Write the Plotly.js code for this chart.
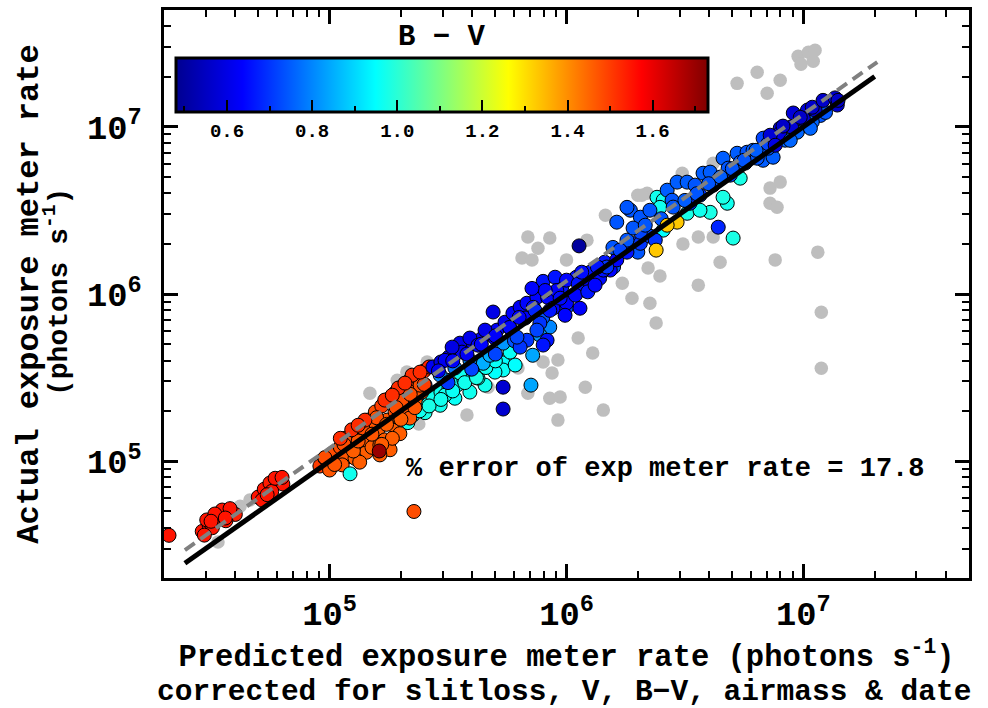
<!DOCTYPE html>
<html>
<head>
<meta charset="utf-8">
<script src="https://cdn.plot.ly/plotly-3.0.1.min.js"></script>
<style>html,body{margin:0;padding:0;background:#fff;}#chart{width:988px;height:708px;}</style>
</head>
<body>
<div id="chart"></div>
<script>
// Background (grey) points: predicted vs actual exposure meter rate (photons/s)
const greyPred = [3.38e4,4.19e4,4.61e4,1.48e5,1.93e5,2.12e5,2.58e5,2.38e5,3.8e5,3.91e5,4.67e5,
  6.87e5,8.5e5,7.58e5,6.49e5,7.15e5,1.0e6,1.22e6,1.46e6,2.0e6,2.19e6,3.08e6,4.16e6,3.1e6,3.6e6,4.16e6,
  4.45e6,7.6e6,1.15e7,2.21e6,2.48e6,1.72e6,1.89e6,2.25e6,3.6e6,1.19e7,2.39e6,1.19e7,1.12e6,1.29e6,
  7.23e6,7.98e6,7.23e6,7.74e6,8.69e5,7.97e5,9.2e5,6.87e5,8.5e5,9.4e5,1.2e6,1.43e6,9.2e5,6.24e5,
  5.25e6,6.38e6,7.03e6,7.98e6,9.5e6,1.05e7,1.1e7,9.77e6,1.12e7,2.08e6,7.03e6];
const greyAct = [3.28e4,5.38e4,5.85e4,2.55e5,3.05e5,3.41e5,3.92e5,1.67e5,1.89e5,3.05e5,2.77e5,
  2.19e6,2.16e6,1.88e6,1.64e6,1.6e6,1.6e6,2.1e6,2.96e6,3.9e6,4.01e6,5.28e6,6.05e6,1.99e6,2.19e6,2.19e6,
  1.55e6,1.6e6,1.78e6,1.43e6,1.28e6,1.16e6,9.44e5,8.81e5,1.13e6,7.78e5,6.7e5,3.6e5,5.45e5,4.44e5,
  4.3e6,4.67e6,3.49e6,3.3e6,3.37e5,3.92e5,4.03e5,2.55e5,2.38e5,2.42e5,2.77e5,2.02e5,1.76e5,3.61e5,
  1.82e7,2.12e7,1.59e7,1.9e7,2.64e7,2.79e7,2.47e7,2.37e7,2.87e7,3.9e6,8.79e6];

// Coloured points: predicted rate, actual rate, B-V colour
const colPred = [
  // cyan / light blue (below the line)
  2.04e5,2.18e5,2.36e5,2.53e5,2.73e5,2.95e5,3.19e5,3.45e5,3.69e5,3.99e5,4.31e5,4.67e5,5.04e5,3.55e5,5.4e5,5.4e5,2.25e5,
  2.14e5,2.53e5,2.93e5,3.38e5,3.91e5,4.53e5,4.99e5,4.23e5,3.07e5,6.07e5,5.78e5,
  2.14e5,2.4e5,2.63e5,2.95e5,3.31e5,3.72e5,4.17e5,4.57e5,5.01e5,
  4.45e5,3.13e5,4.75e5,7.2e5,7.08e5,4.9e5,5.4e5,2.36e5,8.5e5,3.91e5,3.38e5,2.93e5,2.53e5,7.72e5,
  // red, lower-left
  2.1e4,2.9e4,3.1e4,3.3e4,3.55e4,3.8e4,4.0e4,3.2e4,3.65e4,3.03e4,3.52e4,3.8e4,3.28e4,2.96e4,3.16e4,3.63e4,
  5.0e4,5.3e4,5.6e4,6.05e4,6.35e4,5.7e4,5.19e4,5.89e4,5.45e4,6.3e4,
  // orange cluster
  9.1e4,9.55e4,1.03e5,1.11e5,1.06e5,1.16e5,1.22e5,1.31e5,1.37e5,1.45e5,1.56e5,1.66e5,1.77e5,1.89e5,2.02e5,2.16e5,2.32e5,2.5e5,2.63e5,
  1.34e5,1.48e5,1.6e5,1.71e5,1.84e5,1.95e5,2.08e5,1.8e5,1.63e5,1.43e5,2.3e5,2.45e5,1.98e5,
  1.0e5,1.13e5,1.28e5,1.16e5,1.37e5,1.51e5,1.75e5,1.51e5,1.89e5,2.02e5,2.18e5,2.41e5,2.18e5,1.84e5,1.63e5,1.34e5,
  9.55e4,1.05e5,1.15e5,1.26e5,1.38e5,1.51e5,1.58e5,1.74e5,1.91e5,2.0e5,2.19e5,2.29e5,2.51e5,1.32e5,1.66e5,
  1.24e5,1.41e5,1.71e5,1.95e5,2.23e5,1.11e5,1.32e5,1.84e5,2.08e5,2.41e5,
  1.62e5,2.27e5,1.22e5,
  // blue band along the line
  2.73e5,2.95e5,3.19e5,3.45e5,3.73e5,4.03e5,4.36e5,4.71e5,5.09e5,3.55e5,3.91e5,4.9e5,5.5e5,5.94e5,6.37e5,6.81e5,7.5e5,
  3.07e5,3.62e5,4.23e5,4.99e5,5.78e5,6.69e5,3.29e5,4.53e5,
  2.88e5,3.31e5,3.8e5,4.37e5,5.01e5,5.75e5,6.31e5,7.24e5,8.32e5,9.55e5,1.1e6,1.26e6,1.45e6,1.66e6,1.91e6,2.14e6,
  3.16e5,3.98e5,5.01e5,6.03e5,7.94e5,1.0e6,1.2e6,1.58e6,2.0e6,
  7.97e5,8.95e5,1.0e6,1.12e6,1.26e6,1.38e6,1.53e6,1.63e6,1.8e6,2.05e6,2.25e6,9.1e5,1.0e6,1.14e6,8.77e5,7.72e5,8.28e5,
  6.81e5,6.37e5,7.97e5,6.18e5,7.5e5,
  8.13e5,9.4e5,1.09e6,1.23e6,1.32e6,8.5e5,9.86e5,7.36e5,7.15e5,1.43e6,1.16e6,
  1.13e6,5.4e5,5.4e5,
  // upper part
  2.41e6,2.56e6,3.23e6,4.04e6,4.77e6,5.41e6,4.58e6,5.05e6,2.56e6,3.66e6,2.48e6,
  1.48e6,1.35e6,1.57e6,1.63e6,1.86e6,2.05e6,1.8e6,2.05e6,1.8e6,2.25e6,2.66e6,2.93e6,3.23e6,3.77e6,4.04e6,4.58e6,5.25e6,
  5.78e6,6.13e6,6.76e6,7.45e6,6.76e6,7.98e6,9.06e6,9.7e6,1.04e7,1.18e7,3.32e6,3.66e6,4.16e6,4.91e6,5.68e6,
  1.68e6,1.91e6,2.15e6,2.37e6,2.79e6,3.49e6,4.37e6,4.81e6,5.41e6,6.38e6,7.1e6,8.37e6,9.42e6,1.09e7,1.24e7,
  2.51e6,2.82e6,3.16e6,3.55e6,3.98e6,4.47e6,5.01e6,5.62e6,6.31e6,7.08e6,7.94e6,8.91e6,1.0e7,1.12e7,
  1.07e7,8.8e6,
  2.39e6,2.93e6,2.66e6,4.37e6,
  8.2e6,9.7e6,1.09e7,1.21e7,1.36e7,1.39e7,7.24e6,1.4e7,7.6e6];
const colAct = [
  1.84e5,2.02e5,2.16e5,2.29e5,2.42e5,2.59e5,2.73e5,2.85e5,3.05e5,3.32e5,3.61e5,3.92e5,4.2e5,3.37e5,3.87e5,3.51e5,1.89e5,
  1.76e5,1.95e5,2.16e5,2.38e5,2.59e5,2.85e5,3.41e5,3.14e5,2.48e5,3.76e5,4.49e5,
  1.7e5,2.0e5,2.14e5,2.34e5,2.63e5,2.95e5,3.16e5,3.63e5,3.98e5,
  3.85e5,3.05e5,4.3e5,4.3e5,2.85e5,5.83e5,5.08e5,2.48e5,6.34e5,4.01e5,3.61e5,3.27e5,2.85e5,5.68e5,
  3.6e4,3.8e4,4.15e4,4.45e4,4.75e4,4.9e4,4.8e4,4.0e4,4.4e4,4.45e4,5.1e4,5.2e4,4.83e4,3.61e4,4.37e4,4.57e4,
  6.1e4,6.8e4,7.4e4,7.8e4,7.3e4,6.6e4,5.85e4,7.9e4,6.3e4,8.0e4,
  9.35e4,1.04e5,1.12e5,1.21e5,9.6e4,1.04e5,1.3e5,1.43e5,1.58e5,1.76e5,1.97e5,2.14e5,2.35e5,2.56e5,2.78e5,3.01e5,3.23e5,3.46e5,3.66e5,
  1.25e5,1.4e5,1.54e5,1.34e5,1.65e5,1.82e5,2.03e5,1.17e5,1.09e5,1.13e5,2.32e5,2.59e5,1.46e5,
  8.85e4,9.5e4,1.04e5,1.37e5,1.34e5,1.21e5,1.76e5,1.64e5,1.97e5,2.32e5,2.59e5,2.85e5,1.81e5,1.37e5,1.25e5,9.86e4,
  1.05e5,9.55e4,1.26e5,1.15e5,1.58e5,1.45e5,1.82e5,1.66e5,2.09e5,1.78e5,2.51e5,2.09e5,2.88e5,1.32e5,1.26e5,
  1.54e5,1.76e5,2.32e5,2.74e5,3.27e5,1.37e5,1.64e5,2.48e5,2.93e5,3.41e5,
  1.15e5,5.0e4,8.4e4,
  3.66e5,3.92e5,4.2e5,4.5e5,4.82e5,5.08e5,5.37e5,5.75e5,6.08e5,5.08e5,5.45e5,7.8e5,6.78e5,7.67e5,8.34e5,8.81e5,9.57e5,
  4.01e5,4.49e5,4.94e5,5.45e5,6.25e5,7.18e5,4.81e5,6.08e5,
  3.47e5,3.98e5,4.37e5,5.01e5,5.62e5,6.31e5,7.24e5,8.32e5,9.55e5,1.1e6,1.26e6,1.35e6,1.55e6,1.74e6,2.0e6,2.24e6,
  2.95e5,3.55e5,4.37e5,5.25e5,7.24e5,8.32e5,1.05e6,1.45e6,1.78e6,
  1.19e6,1.26e6,1.21e6,1.15e6,1.16e6,1.24e6,1.39e6,1.6e6,1.78e6,2.01e6,2.22e6,1.05e6,8.81e5,8.22e5,8.22e5,6.7e5,5.29e5,
  5.29e5,4.81e5,4.95e5,5.52e5,6.08e5,
  1.05e6,9.44e5,9.84e5,1.03e6,1.13e6,7.98e5,7.46e5,7.98e5,1.08e6,1.39e6,1.35e6,
  1.94e6,2.77e5,2.05e5,
  3.79e6,3.64e6,3.04e6,3.08e6,3.49e6,4.93e6,3.79e6,2.16e6,2.41e6,3.17e6,3.3e6,
  1.45e6,1.45e6,1.9e6,2.69e6,3.17e6,2.88e6,2.1e6,2.34e6,3.3e6,3.17e6,4.18e6,4.67e6,4.67e6,5.28e6,5.36e6,6.49e6,6.95e6,
  7.05e6,7.24e6,6.31e6,6.58e6,8.55e6,9.82e6,1.21e7,9.95e6,1.26e7,1.17e7,3.49e6,3.9e6,4.48e6,5.14e6,6.07e6,
  1.83e6,2.48e6,2.58e6,2.1e6,3.64e6,4.48e6,4.8e6,5.66e6,6.14e6,6.49e6,7.45e6,8.32e6,9.29e6,1.07e7,1.22e7,
  2.82e6,3.31e6,3.63e6,3.98e6,4.57e6,5.01e6,5.62e6,6.31e6,7.24e6,7.94e6,9.12e6,1.0e7,1.12e7,1.26e7,
  9.8e6,8.3e6,
  1.83e6,2.69e6,2.58e6,2.51e6,
  1.01e7,1.14e7,1.31e7,1.44e7,1.49e7,1.35e7,8.91e6,1.44e7,7.76e6];
const colBV = [
  0.96,0.97,0.97,0.98,0.97,0.97,0.98,0.97,0.97,0.98,0.96,0.97,0.96,0.97,0.95,0.96,0.97,
  0.97,0.98,0.97,0.96,0.97,0.97,0.95,0.98,0.97,0.95,0.96,
  0.97,0.97,0.98,0.97,0.96,0.97,0.98,0.97,0.96,
  0.85,0.84,0.85,0.84,0.84,0.80,0.82,0.72,0.80,0.80,0.78,0.80,0.72,0.82,
  1.55,1.55,1.55,1.54,1.55,1.55,1.54,1.55,1.55,1.55,1.55,1.55,1.55,1.55,1.55,1.55,
  1.55,1.55,1.54,1.55,1.55,1.55,1.55,1.55,1.55,1.55,
  1.50,1.50,1.48,1.48,1.47,1.47,1.48,1.48,1.50,1.50,1.48,1.50,1.48,1.48,1.50,1.50,1.52,1.52,1.53,
  1.46,1.46,1.46,1.46,1.46,1.46,1.47,1.46,1.46,1.46,1.47,1.47,1.46,
  1.47,1.47,1.46,1.48,1.47,1.46,1.47,1.47,1.48,1.48,1.48,1.48,1.47,1.46,1.46,1.46,
  1.48,1.47,1.48,1.46,1.48,1.47,1.48,1.46,1.48,1.46,1.48,1.47,1.50,1.47,1.46,
  1.52,1.52,1.52,1.52,1.52,1.52,1.52,1.52,1.52,1.52,
  1.70,1.48,0.97,
  0.62,0.60,0.62,0.60,0.62,0.63,0.62,0.60,0.62,0.60,0.61,0.60,0.62,0.63,0.62,0.64,0.64,
  0.62,0.62,0.63,0.62,0.64,0.64,0.60,0.61,
  0.62,0.63,0.62,0.64,0.63,0.64,0.63,0.65,0.64,0.66,0.65,0.66,0.66,0.68,0.70,0.70,
  0.70,0.72,0.72,0.74,0.74,0.72,0.74,0.74,0.74,
  0.66,0.66,0.64,0.66,0.64,0.65,0.64,0.64,0.66,0.70,0.72,0.63,0.64,0.63,0.64,0.70,0.66,
  0.70,0.70,0.66,0.72,0.72,
  0.64,0.65,0.64,0.66,0.64,0.66,0.64,0.68,0.64,0.66,0.65,
  0.50,0.57,0.57,
  0.97,0.97,0.98,0.98,0.97,0.98,0.98,0.98,0.95,0.97,0.97,
  0.70,0.66,0.74,0.74,0.74,0.74,0.74,0.72,0.74,0.74,0.75,0.75,0.75,0.75,0.75,0.75,0.75,
  0.74,0.75,0.75,0.75,0.72,0.60,0.58,0.74,0.58,0.74,0.70,0.70,0.70,0.72,0.72,
  0.72,0.74,0.74,0.70,0.74,0.74,0.74,0.74,0.74,0.74,0.74,0.76,0.76,0.76,0.74,
  0.74,0.74,0.75,0.74,0.74,0.75,0.74,0.74,0.75,0.72,0.60,0.58,0.58,0.56,
  0.76,0.76,
  1.33,1.33,1.33,0.68,
  0.56,0.56,0.56,0.56,0.56,0.56,0.58,0.56,0.60];

// One-to-one line and fitted (dashed) line
const oneToOneX = [2.45e4, 2.0e7];
const oneToOneY = [2.45e4, 2.0e7];
const fitX = [2.45e4, 2.05e7];
const fitY = [2.94e4, 2.44e7];

const colorTicks = [0.6, 0.8, 1.0, 1.2, 1.4, 1.6];
const colorTickText = ['0.6', '0.8', '1.0', '1.2', '1.4', '1.6'];
const colorMinorTicks = [0.5, 0.7, 0.9, 1.1, 1.3, 1.5, 1.7];
const bvRange = [0.48, 1.73];

const FONT = 'Liberation Mono, Courier New, monospace';
const jet = [[0,'#000090'],[0.125,'#0000ff'],[0.375,'#00ffff'],[0.625,'#ffff00'],[0.875,'#ff0000'],[1,'#800000']];
const clear = [[0,'rgba(0,0,0,0)'],[1,'rgba(0,0,0,0)']];

const cbBase = {orientation:'h', x:0.3453, xanchor:'center', y:(578-58)/568, yanchor:'top',
  len:532, lenmode:'pixels', thickness:54, thicknessmode:'pixels', xpad:0, ypad:0,
  ticks:'inside', tickcolor:'#000'};

const traces = [
  {type:'scatter', mode:'markers', x:greyPred, y:greyAct, hoverinfo:'skip',
   marker:{size:13.5, color:'#bebebe', line:{width:0}}, showlegend:false},
  {type:'scatter', mode:'markers', x:colPred, y:colAct, showlegend:false,
   marker:{size:14, color:colBV, colorscale:jet, cmin:bvRange[0], cmax:bvRange[1],
     line:{width:1, color:'#000'}, showscale:true,
     colorbar:Object.assign({}, cbBase, {outlinewidth:3, outlinecolor:'#000', ticklen:13, tickwidth:2,
       tickmode:'array', tickvals:colorTicks, ticktext:colorTickText,
       tickfont:{family:FONT, size:19, color:'#000', weight:'bold'}})}},
  // helper trace carrying the short (minor) colour-bar ticks; no visible markers, transparent bar
  {type:'scatter', mode:'markers', x:[colPred[0]], y:[colAct[0]], showlegend:false, hoverinfo:'skip',
   marker:{size:1, opacity:0, color:[colBV[0]], colorscale:clear, cmin:bvRange[0], cmax:bvRange[1], showscale:true,
     colorbar:Object.assign({}, cbBase, {outlinewidth:0, ticklen:6, tickwidth:2, tickmode:'array',
       tickvals:colorMinorTicks, showticklabels:false})}},
  {type:'scatter', mode:'lines', x:fitX, y:fitY, showlegend:false, hoverinfo:'skip',
   line:{color:'#808080', width:4, dash:'12px,7px'}},
  {type:'scatter', mode:'lines', x:oneToOneX, y:oneToOneY, showlegend:false, hoverinfo:'skip',
   line:{color:'#000', width:5}}
];

const axisCommon = {
  type:'log', range:[Math.log10(2e4), Math.log10(5e7)], showgrid:false, zeroline:false, automargin:false,
  showline:true, linewidth:3, linecolor:'#000', mirror:'allticks',
  ticks:'inside', ticklen:14, tickwidth:3, tickcolor:'#000', dtick:1, exponentformat:'power',
  tickfont:{family:FONT, size:27, color:'#000', weight:'bold'},
  minor:{ticks:'inside', ticklen:7, tickwidth:2, tickcolor:'#000', dtick:'D1', showgrid:false}
};

const layout = {
  width:988, height:708, margin:{l:164, r:19, t:10, b:130, autoexpand:false},
  paper_bgcolor:'#fff', plot_bgcolor:'#fff', showlegend:false,
  font:{family:FONT, color:'#000'},
  xaxis:Object.assign({}, axisCommon, {ticklabelstandoff:5,
    title:{text:'Predicted exposure meter rate (photons s<sup>-1</sup>)',
      font:{family:FONT, size:30.5, color:'#000', weight:'bold'}, standoff:0}}),
  yaxis:Object.assign({}, axisCommon, {ticklabelstandoff:14,
    title:{text:'Actual exposure meter rate',
      font:{family:FONT, size:32, color:'#000', weight:'bold'}, standoff:39}}),
  annotations:[
    {xref:'paper', yref:'paper', x:0.3453, y:(578-37)/568, xanchor:'center', yanchor:'middle', showarrow:false,
     text:'B − V', font:{family:FONT, size:29, color:'#000', weight:'bold'}},
    {xref:'paper', yref:'paper', x:0.4975, y:(578-692)/568, xanchor:'center', yanchor:'middle', showarrow:false,
     text:'corrected for slitloss, V, B−V, airmass &amp; date', font:{family:FONT, size:29.5, color:'#000', weight:'bold'}},
    {xref:'paper', yref:'paper', x:(57-164)/805, y:(578-292)/568, xanchor:'center', yanchor:'middle', textangle:-90, showarrow:false,
     text:'(photons s<sup>-1</sup>)', font:{family:FONT, size:28, color:'#000', weight:'bold'}},
    {xref:'paper', yref:'paper', x:0.622, y:(578-469)/568, xanchor:'center', yanchor:'middle', showarrow:false,
     text:'% error of exp meter rate = 17.8', font:{family:FONT, size:27, color:'#000', weight:'bold'}}]
};

Plotly.newPlot('chart', traces, layout, {staticPlot:true, displayModeBar:false});
</script>
</body>
</html>
